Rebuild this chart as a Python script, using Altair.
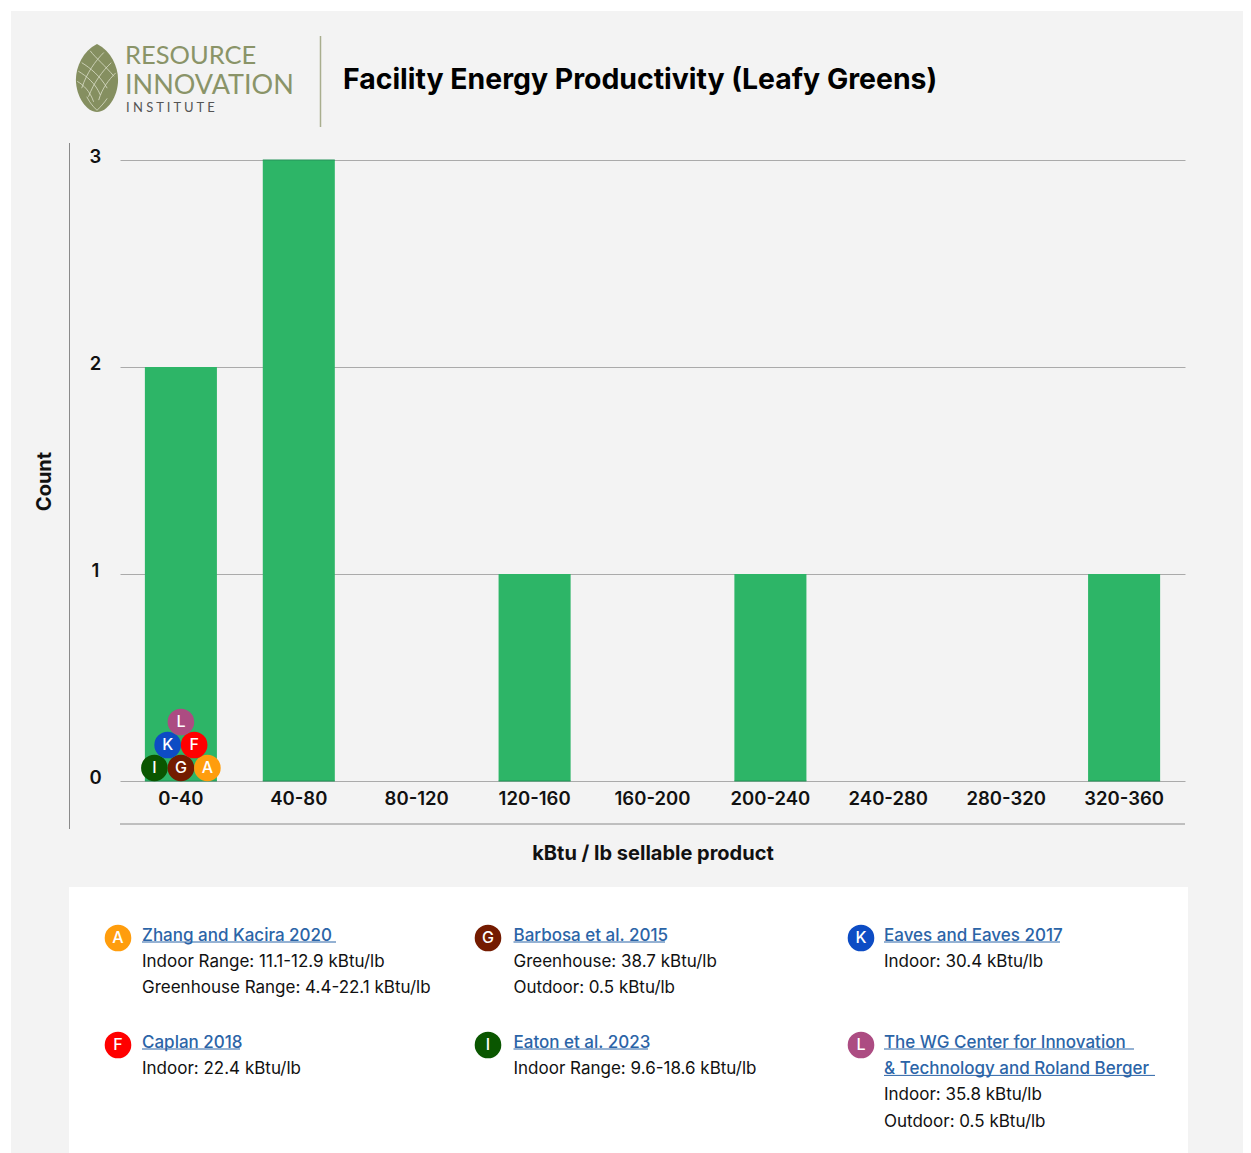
import altair as alt
import pandas as pd

FONT = "Inter"
INK = "#111111"
OX, OY = 11, 11  # panel origin on the page


def px(x):
    return x - OX


def py(y):
    return y - OY


# ---- chart values ----
bins = ["0-40", "40-80", "80-120", "120-160", "160-200", "200-240", "240-280", "280-320", "320-360"]
counts = [2, 3, 0, 1, 0, 1, 0, 0, 1]

# the 0 and 3 gridlines show through the bars as a darker edge
edge_bins = ["0-40", "40-80", "120-160", "200-240", "320-360", "40-80"]
edge_values = [0, 0, 0, 0, 0, 3]

dot_letters = ["I", "G", "A", "K", "F", "L"]
dot_bins = ["0-40"] * 6
dot_cols = [-1, 0, 1, -0.5, 0.5, 0]
dot_levels = [0.063, 0.063, 0.063, 0.174, 0.174, 0.285]
dot_colors = ["#0a5600", "#741b00", "#ff9d0d", "#0d4cc4", "#ff0000", "#ac4c82"]

legend_letters = ["A", "G", "K", "F", "I", "L"]
legend_colors = ["#ff9d0d", "#741b00", "#0d4cc4", "#ff0000", "#0a5600", "#ac4c82"]
legend_links = [
    ["Zhang and Kacira 2020 "],
    ["Barbosa et al. 2015"],
    ["Eaves and Eaves 2017"],
    ["Caplan 2018"],
    ["Eaton et al. 2023"],
    ["The WG Center for Innovation ", "& Technology and Roland Berger"],
]
legend_notes = [
    ["Indoor Range: 11.1-12.9 kBtu/lb", "Greenhouse Range: 4.4-22.1 kBtu/lb"],
    ["Greenhouse: 38.7 kBtu/lb", "Outdoor: 0.5 kBtu/lb"],
    ["Indoor: 30.4 kBtu/lb"],
    ["Indoor: 22.4 kBtu/lb"],
    ["Indoor Range: 9.6-18.6 kBtu/lb"],
    ["Indoor: 35.8 kBtu/lb", "Outdoor: 0.5 kBtu/lb"],
]

# ---- layout of the legend card ----
card_text_x = [142, 513.5, 884, 142, 513.5, 884]
card_dot_x = [118, 488, 861, 118, 488, 861]
card_top = [935.6, 935.6, 935.6, 1042.6, 1042.6, 1042.6]
card_dot_y = [938, 938, 938, 1045, 1045, 1045]
link_widths = [[194], [151.5], [176], [98], [134.5], [250, 271]]


def blank():
    return alt.Data(values=[{}])


def label(text, x, y, size, color=INK, weight=400, align="left", font=FONT):
    return alt.Chart(blank()).mark_text(
        font=font, fontSize=size, fontWeight=weight, align=align, baseline="middle", color=color
    ).encode(x=alt.value(px(x)), y=alt.value(py(y)), text=alt.value(text))


def hline(x1, x2, y, color, width=1.0):
    return alt.Chart(blank()).mark_rule(color=color, strokeWidth=width).encode(
        x=alt.value(px(x1)), x2=alt.value(px(x2)), y=alt.value(py(y))
    )


def vline(x, y1, y2, color, width=1.0):
    return alt.Chart(blank()).mark_rule(color=color, strokeWidth=width).encode(
        x=alt.value(px(x)), y=alt.value(py(y1)), y2=alt.value(py(y2))
    )


x_scale = alt.Scale(type="band", domain=bins, range=[px(120), px(1185)], paddingInner=0.389, paddingOuter=0.211)
y_scale = alt.Scale(domain=[0, 3], range=[py(781), py(160)], nice=False)

W, H = 1232, 1142

x_axis = alt.Axis(
    title="kBtu / lb sellable product",
    orient="bottom",
    offset=py(781) - H,
    domain=False,
    ticks=False,
    labelAngle=0,
    labelFont=FONT,
    labelFontSize=18.5,
    labelFontWeight=600,
    labelColor=INK,
    labelPadding=8,
    titleFont=FONT,
    titleFontSize=20,
    titleFontWeight=700,
    titleColor=INK,
    titlePadding=36,
)
y_axis = alt.Axis(
    title="Count",
    orient="left",
    offset=-px(120),
    values=[0, 1, 2, 3],
    format="d",
    domain=False,
    ticks=False,
    grid=True,
    gridColor="#aaaaaa",
    gridWidth=1,
    labelFont=FONT,
    labelFontSize=18.5,
    labelFontWeight=600,
    labelColor=INK,
    labelAlign="center",
    labelPadding=25,
    labelOffset=-4,
    titleFont=FONT,
    titleFontSize=20,
    titleFontWeight=700,
    titleColor=INK,
    titleX=px(54) - px(120),
    titleY=py(481),
    titleAngle=270,
)
x_enc = alt.X("bin:N", scale=x_scale, sort=None, axis=x_axis)


bars = alt.Chart(pd.DataFrame({"bin": bins, "count": counts})).mark_bar(color="#2db567").encode(
    x=x_enc, y=alt.Y("count:Q", scale=y_scale, axis=y_axis)
)
edges = alt.Chart(pd.DataFrame({"bin": edge_bins, "edge": edge_values})).mark_tick(
    size=72, thickness=1, color="#26945a", opacity=1
).encode(x=x_enc, y=alt.Y("edge:Q", scale=y_scale, axis=y_axis))

dot_layers = []
for letter, b, col, level, colour in zip(dot_letters, dot_bins, dot_cols, dot_levels, dot_colors):
    row = pd.DataFrame({"bin": [b], "level": [level], "letter": [letter]})
    enc = dict(x=x_enc, y=alt.Y("level:Q", scale=y_scale, axis=y_axis))
    dot_layers.append(
        alt.Chart(row)
        .mark_point(filled=True, size=708, opacity=1, strokeWidth=0, color=colour, xOffset=col * 26.5)
        .encode(**enc)
    )
    dot_layers.append(
        alt.Chart(row)
        .mark_text(font=FONT, fontSize=16, fontWeight=500, color="white", baseline="middle", xOffset=col * 26.5)
        .encode(text="letter:N", **enc)
    )

# ---- logo ----
SEED = "M0,-1 C0.42,-0.8 0.62,-0.32 0.62,0.05 C0.62,0.55 0.3,1 0,1 C-0.3,1 -0.62,0.55 -0.62,0.05 C-0.62,-0.32 -0.42,-0.8 0,-1 Z"
MESH = (
    "M-0.45,-0.45 C-0.2,-0.3 0.1,-0.05 0.3,0.3 M-0.55,-0.2 C-0.3,-0.05 -0.05,0.15 0.1,0.5 "
    "M-0.58,0.1 C-0.4,0.2 -0.2,0.4 -0.1,0.7 M-0.2,-0.8 C-0.05,-0.6 0.25,-0.35 0.5,-0.05 "
    "M0.2,-0.75 C-0.05,-0.5 -0.3,-0.15 -0.45,0.3 M0.42,-0.45 C0.15,-0.2 -0.1,0.15 -0.25,0.55 "
    "M0.55,-0.15 C0.35,0.05 0.15,0.3 0.05,0.65 M-0.3,0.55 C-0.2,0.75 -0.1,0.85 0,0.95 "
    "M0.3,0.6 C0.2,0.75 0.1,0.85 0,0.95"
)
seed = alt.Chart(blank()).mark_point(shape=SEED, filled=True, size=4624, color="#858f60", opacity=1, strokeWidth=0).encode(
    x=alt.value(px(97)), y=alt.value(py(78))
)
mesh = alt.Chart(blank()).mark_point(shape=MESH, filled=False, size=4624, color="#e6e8d6", opacity=0.9, strokeWidth=0.8).encode(
    x=alt.value(px(97)), y=alt.value(py(78))
)
OLIVE = "#8a9468"

layers = [
    # legend card
    alt.Chart(blank()).mark_rect(color="white").encode(
        x=alt.value(px(69)), x2=alt.value(px(1188)), y=alt.value(py(887)), y2=alt.value(H)
    ),
    # chart frame
    vline(69.5, 143, 829, "#8a8a8a"),
    hline(120, 1185, 824, "#8a8a8a"),
    vline(320.5, 36, 127, "#a9ae8e", 1.5),
    bars,
    edges,
    *dot_layers,
    seed,
    mesh,
    label("RESOURCE", 125, 56, 25.5, OLIVE, 400, font="Lato"),
    label("INNOVATION", 125, 85.5, 27, OLIVE, 400, font="Lato"),
    label("I N S T I T U T E", 126, 107.5, 13, "#555555", 400, font="Lato"),
    label("Facility Energy Productivity (Leafy Greens)", 343, 80, 28.4, "#000000", 700),
]

for i in range(6):
    c_x, d_x, top, d_y = card_text_x[i], card_dot_x[i], card_top[i], card_dot_y[i]
    layers.append(
        alt.Chart(blank()).mark_point(filled=True, size=708, opacity=1, strokeWidth=0, color=legend_colors[i]).encode(
            x=alt.value(px(d_x)), y=alt.value(py(d_y))
        )
    )
    layers.append(label(legend_letters[i], d_x, d_y, 16, "white", 500, "center"))
    y = top
    for line, w in zip(legend_links[i], link_widths[i]):
        layers.append(label(line, c_x, y, 17, "#2b64a7", 500))
        layers.append(hline(c_x, c_x + w, y + 6.4, "#2b64a7", 1))
        y += 26.4
    for line in legend_notes[i]:
        layers.append(label(line, c_x, y, 17, INK, 400))
        y += 26.4

chart = (
    alt.layer(*layers)
    .properties(
        width=W,
        height=H,
        padding={"left": 3, "top": 3, "right": 0, "bottom": 0},
        autosize=alt.AutoSizeParams(type="none"),
        background="white",
    )
    .configure_view(fill="#f3f3f3", stroke=None)
)

chart.save("out.html", embed_options={"renderer": "svg", "actions": False})
